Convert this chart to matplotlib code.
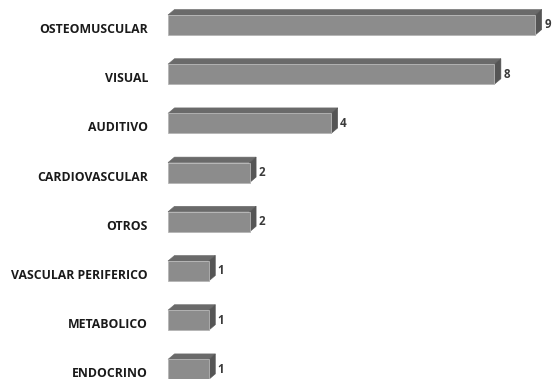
import matplotlib
matplotlib.use("Agg")
import matplotlib.pyplot as plt
from matplotlib.patches import Polygon

categories = ["OSTEOMUSCULAR", "VISUAL", "AUDITIVO", "CARDIOVASCULAR",
              "OTROS", "VASCULAR PERIFERICO", "METABOLICO", "ENDOCRINO"]
values = [9, 8, 4, 2, 2, 1, 1, 1]

W, H = 552, 379
fig = plt.figure(figsize=(W / 100, H / 100), dpi=100)
ax = fig.add_axes([0, 0, 1, 1])
ax.axis("off")

px_per_unit = 40.8
row_px = 49.2
x0_px = 168
first_c_px = 25
ax.set_xlim(-x0_px / px_per_unit, (W - x0_px) / px_per_unit)
ax.set_ylim((H - first_c_px) / row_px, -first_c_px / row_px)

h = 20 / row_px
dx = 6.5 / px_per_unit
dy = 5.5 / row_px

front_c = "#8c8c8c"
top_c = "#6a6a6a"
side_c = "#555555"
edge_c = "#b5b5b5"

for i, (cat, v) in enumerate(zip(categories, values)):
    top = i - h / 2
    bot = i + h / 2
    front = Polygon([(0, top), (v, top), (v, bot), (0, bot)], closed=True,
                    facecolor=front_c, edgecolor=edge_c, linewidth=0.6, zorder=3)
    topf = Polygon([(0, top), (v, top), (v + dx, top - dy), (dx, top - dy)], closed=True,
                   facecolor=top_c, edgecolor=top_c, linewidth=0.4, zorder=2)
    side = Polygon([(v, top), (v + dx, top - dy), (v + dx, bot - dy), (v, bot)], closed=True,
                   facecolor=side_c, edgecolor=side_c, linewidth=0.4, zorder=2)
    for p in (topf, side, front):
        ax.add_patch(p)
    ax.text(v + dx + 2.5 / px_per_unit, i, str(v), ha="left", va="center",
            fontsize=8.3, fontweight="bold", color="#3a3a3a", family="Open Sans")
    ax.text(-20 / px_per_unit, i + 4.5 / row_px, cat, ha="right", va="center",
            fontsize=8.8, fontweight="bold", color="#1a1a1a", family="Open Sans")

fig.savefig("out.png", dpi=100, facecolor="white")
